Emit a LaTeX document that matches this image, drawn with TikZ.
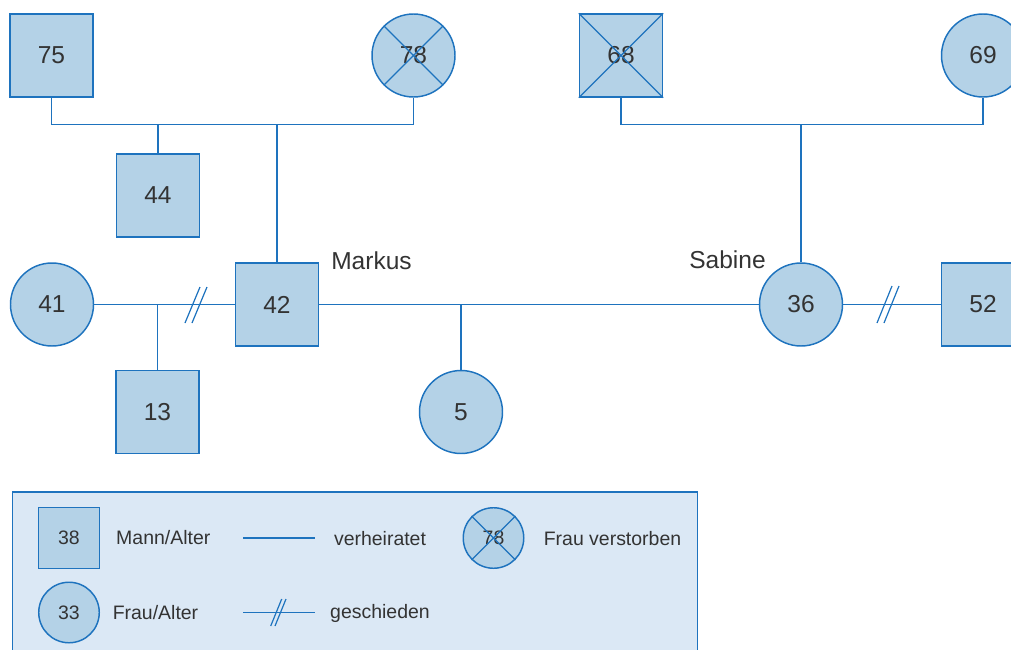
\documentclass[tikz,border=0pt]{standalone}
\usepackage{fontspec}
\setmainfont{Liberation Sans}
\definecolor{lineblue}{RGB}{30,115,190}
\definecolor{fillblue}{RGB}{180,210,231}
\definecolor{legendbg}{RGB}{219,232,245}
\definecolor{txt}{RGB}{51,51,51}
\tikzset{
  conn/.style={draw=lineblue, line width=1.1pt},
  male/.style={rectangle, draw=lineblue, fill=fillblue, line width=1.1pt, minimum width=62.25pt, minimum height=62.25pt, inner sep=0pt, text=txt, font=\fontsize{18.4}{20}\selectfont},
  female/.style={circle, draw=lineblue, fill=fillblue, line width=1.1pt, minimum size=62.25pt, inner sep=0pt, text=txt, font=\fontsize{18.4}{20}\selectfont},
  lmale/.style={male, minimum width=45.4pt, minimum height=45.4pt, font=\fontsize{14.6}{16}\selectfont},
  lfemale/.style={female, minimum size=45.4pt, font=\fontsize{14.6}{16}\selectfont},
  crossline/.style={draw=lineblue, line width=0.9pt},
  namelabel/.style={text=txt, font=\fontsize{18.4}{20}\selectfont, inner sep=0pt},
  legendtext/.style={text=txt, font=\fontsize{14.6}{16}\selectfont, inner sep=0pt},
}
\begin{document}
\begin{tikzpicture}[x=0.75pt, y=-0.75pt]
\useasboundingbox (0,0) rectangle (1011,650);
% legend background
\path[fill=legendbg, draw=lineblue, line width=0.8pt] (12.3,492) rectangle (697.7,662);

% generation 1
\node[male] (n75) at (51.5,55.5) {75};
\node[female] (n78) at (413.5,55.5) {78};
\node[male] (n68) at (621,55.5) {68};
\node[female] (n69) at (983,55.5) {69};
\draw[crossline] (n78.north east) -- (n78.south west) (n78.north west) -- (n78.south east);
\draw[crossline] (n68.north east) -- (n68.south west) (n68.north west) -- (n68.south east);

\coordinate (top1) at (0,124.5);

% generation 2
\node[male] (n44) at (158,195.5) {44};
\node[female] (n41) at (52,304.5) {41};
\node[male] (n42) at (277,304.5) {42};
\node[female] (n36) at (801,304.5) {36};
\node[male] (n52) at (983,304.5) {52};
\node[namelabel, anchor=base west] (markus) at (331,269) {Markus};
\node[namelabel, anchor=base west] (sabine) at (689,268) {Sabine};

% generation 3
\node[male] (n13) at (157.5,412) {13};
\node[female] (n5) at (461,412) {5};

% connectors top
\draw[conn] (n75.south) -- (n75.south |- top1) -| (n78.south);
\draw[conn] (n44.north) -- (n44.north |- top1);
\draw[conn] (n42.north) -- (n42.north |- top1);
\draw[conn] (n68.south) -- (n68.south |- top1) -| (n69.south);
\draw[conn] (n36.north) -- (n36.north |- top1);

% connectors row 2
\draw[conn] (n41) -- (n42);
\draw[conn] (n13.north) -- (n13.north |- n41.east);
\draw[conn] (n42) -- (n36);
\draw[conn] (n5.north) -- (n5.north |- n42.east);
\draw[conn] (n36) -- (n52);

% divorce marks
\draw[conn, line width=0.9pt] (185,323) -- (200,287) (192,323) -- (207,287);
\draw[conn, line width=0.9pt] (877,323) -- (892,286) (884,323) -- (899,286);

% legend
\node[lmale] (l38) at (69,538) {38};
\node[lfemale] (l33) at (69,612.5) {33};
\node[lfemale] (l78) at (493.5,538) {78};
\draw[crossline] (l78.north east) -- (l78.south west) (l78.north west) -- (l78.south east);
\node[legendtext] (tmann) at (163.3,538) {Mann/Alter};
\node[legendtext] (tfrau) at (155.5,613) {Frau/Alter};
\node[legendtext] (tverh) at (380,538.5) {verheiratet};
\node[legendtext] (tgesch) at (380,613.5) {geschieden};
\node[legendtext] (tverst) at (612.5,539) {Frau verstorben};
\coordinate (lv1) at (243.3,538);
\coordinate (lv2) at (315,538);
\coordinate (lg1) at (243.3,612.7);
\coordinate (lg2) at (315,612.7);
\draw[conn] (lv1) -- (lv2);
\draw[conn] (lg1) -- (lg2);
\draw[conn, line width=0.9pt] (270.7,626) -- (281.7,599) (275,626) -- (286,599);
\end{tikzpicture}
\end{document}
